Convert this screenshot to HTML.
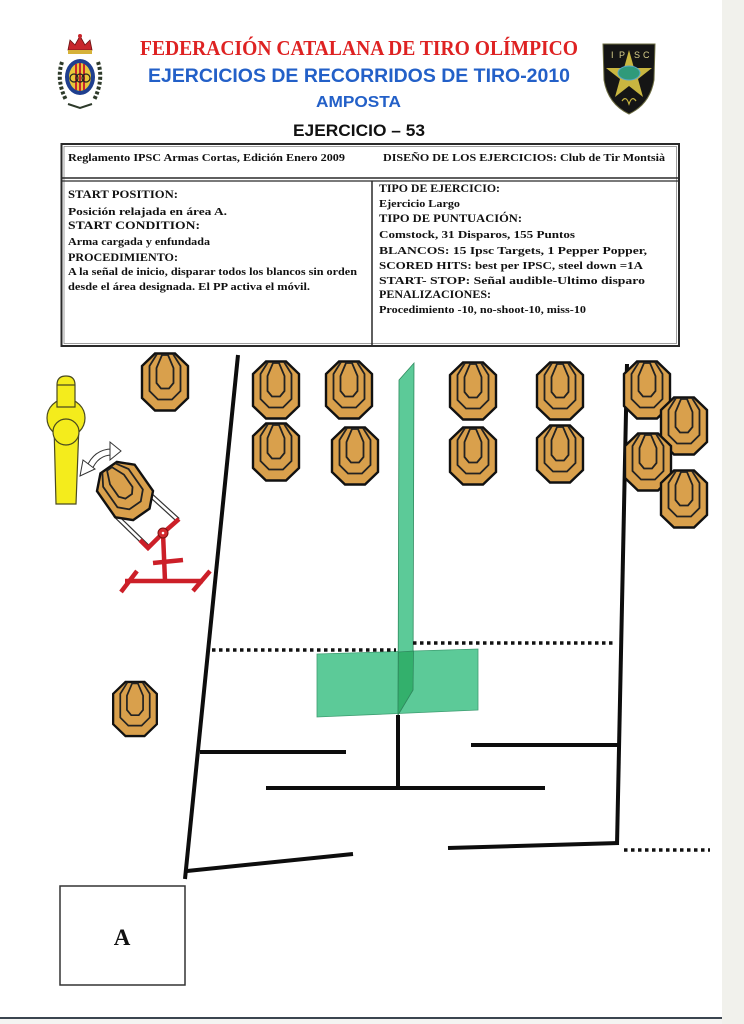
<!DOCTYPE html>
<html><head><meta charset="utf-8">
<style>
html,body{margin:0;padding:0;background:#fff;}
svg{display:block;}
</style></head>
<body>
<svg width="744" height="1024" viewBox="0 0 744 1024" xmlns="http://www.w3.org/2000/svg">
<defs>
<g id="tg">
  <polygon points="-10,-28.5 10,-28.5 23,-16 23,16 10,28.5 -10,28.5 -23,16 -23,-16" fill="#d9a04c" stroke="#111" stroke-width="2.4" stroke-linejoin="miter"/>
  <path d="M-8,-28 L-15.5,-16 L-15.5,9 L-7,17.5 L7,17.5 L15.5,9 L15.5,-16 L8,-28" fill="none" stroke="#222" stroke-width="1.8"/>
  <path d="M-3,-27 L-8.5,-14 L-8.5,1 L-4,6.5 L4,6.5 L8.5,1 L8.5,-14 L3,-27 Z" fill="none" stroke="#222" stroke-width="1.8"/>
</g>
</defs>

<!-- page background details -->
<rect x="0" y="0" width="744" height="1024" fill="#ffffff"/>
<rect x="722" y="0" width="22" height="1024" fill="#f1f1ec"/>
<rect x="0" y="1019" width="722" height="5" fill="#f4f4f2"/>
<line x1="0" y1="1018" x2="722" y2="1018" stroke="#3b4550" stroke-width="2"/>

<!-- left logo -->
<g>
  <path d="M68,50 L70,40 L75,45 L80,36 L85,45 L90,40 L92,50 Z" fill="#c8262c" stroke="#6a1010" stroke-width="0.8"/>
  <circle cx="80" cy="36" r="2" fill="#c8262c"/>
  <rect x="68" y="50" width="24" height="4" fill="#d6b23a"/>
  <path d="M62,62 Q56,80 66,100" fill="none" stroke="#2d3a2a" stroke-width="4" stroke-dasharray="3 2"/>
  <path d="M98,62 Q104,80 94,100" fill="none" stroke="#2d3a2a" stroke-width="4" stroke-dasharray="3 2"/>
  <ellipse cx="80" cy="77" rx="15" ry="18" fill="#1f3f8f"/>
  <ellipse cx="80" cy="77" rx="11" ry="14" fill="#e8c63a"/>
  <line x1="76" y1="64" x2="76" y2="90" stroke="#c8262c" stroke-width="2"/>
  <line x1="80" y1="63" x2="80" y2="91" stroke="#c8262c" stroke-width="2"/>
  <line x1="84" y1="64" x2="84" y2="90" stroke="#c8262c" stroke-width="2"/>
  <circle cx="74" cy="78" r="4" fill="none" stroke="#222" stroke-width="1.2"/>
  <circle cx="80" cy="78" r="4" fill="none" stroke="#222" stroke-width="1.2"/>
  <circle cx="86" cy="78" r="4" fill="none" stroke="#222" stroke-width="1.2"/>
  <path d="M68,104 L80,108 L92,104" fill="none" stroke="#2d3a2a" stroke-width="2"/>
</g>

<!-- IPSC logo -->
<g>
  <path d="M603,44 L655,44 L654,80 Q650,104 629,114 Q608,104 604,80 Z" fill="#151515" stroke="#6b6b40" stroke-width="1"/>
  <polygon points="629,50 634,68 652,68 638,79 643,97 629,86 615,97 620,79 606,68 624,68" fill="#c9b640"/>
  <ellipse cx="629" cy="73" rx="11" ry="7" fill="#2f9a7a" stroke="#5aa7c8" stroke-width="1"/>
  <text x="611" y="58" font-family="Liberation Sans, sans-serif" font-size="9" fill="#d8cf8a">I</text>
  <text x="619" y="58" font-family="Liberation Sans, sans-serif" font-size="9" fill="#d8cf8a">P</text>
  <text x="634" y="58" font-family="Liberation Sans, sans-serif" font-size="9" fill="#d8cf8a">S</text>
  <text x="643" y="58" font-family="Liberation Sans, sans-serif" font-size="9" fill="#d8cf8a">C</text>
  <path d="M622,101 Q626,95 629,104 Q632,95 636,101" fill="none" stroke="#c9b640" stroke-width="1.2"/>
</g>

<!-- titles -->
<text x="140" y="55" textLength="438" lengthAdjust="spacingAndGlyphs" font-family="Liberation Serif, serif" font-weight="bold" font-size="21" fill="#de2222">FEDERACIÓN CATALANA DE TIRO OLÍMPICO</text>
<text x="148" y="82" textLength="422" lengthAdjust="spacingAndGlyphs" font-family="Liberation Sans, sans-serif" font-weight="bold" font-size="19" fill="#2360c8">EJERCICIOS DE RECORRIDOS DE TIRO-2010</text>
<text x="316" y="107" textLength="85" lengthAdjust="spacingAndGlyphs" font-family="Liberation Sans, sans-serif" font-weight="bold" font-size="16" fill="#2360c8">AMPOSTA</text>
<text x="293" y="136" textLength="132" lengthAdjust="spacingAndGlyphs" font-family="Liberation Sans, sans-serif" font-weight="bold" font-size="17" fill="#111">EJERCICIO – 53</text>

<!-- table -->
<g fill="none" stroke="#2a2a2a">
  <rect x="61.5" y="144" width="617.5" height="202" stroke-width="2"/>
  <rect x="64" y="146.5" width="612.5" height="197" stroke-width="0.7" stroke="#777"/>
  <line x1="61.5" y1="178" x2="679" y2="178" stroke-width="1.4"/>
  <line x1="61.5" y1="181" x2="679" y2="181" stroke-width="1.2"/>
  <line x1="372" y1="181" x2="372" y2="346" stroke-width="1.5"/>
</g>
<g font-family="Liberation Serif, serif" font-weight="bold" fill="#111">
  <text x="68" y="161" font-size="11" textLength="277" lengthAdjust="spacingAndGlyphs">Reglamento IPSC Armas Cortas, Edición Enero 2009</text>
  <text x="383" y="161" font-size="11" textLength="282" lengthAdjust="spacingAndGlyphs">DISEÑO DE LOS EJERCICIOS: Club de Tir Montsià</text>

  <text x="68" y="198" font-size="12" textLength="110" lengthAdjust="spacingAndGlyphs">START POSITION:</text>
  <text x="68" y="215" font-size="11" textLength="159" lengthAdjust="spacingAndGlyphs">Posición relajada en área A.</text>
  <text x="68" y="229" font-size="12" textLength="132" lengthAdjust="spacingAndGlyphs">START CONDITION:</text>
  <text x="68" y="245" font-size="11" textLength="142" lengthAdjust="spacingAndGlyphs">Arma cargada y enfundada</text>
  <text x="68" y="261" font-size="12" textLength="110" lengthAdjust="spacingAndGlyphs">PROCEDIMIENTO:</text>
  <text x="68" y="275" font-size="11" textLength="289" lengthAdjust="spacingAndGlyphs">A la señal de inicio, disparar todos los blancos sin orden</text>
  <text x="68" y="290" font-size="11" textLength="242" lengthAdjust="spacingAndGlyphs">desde el área designada.  El PP activa el móvil.</text>

  <text x="379" y="192" font-size="12" textLength="121" lengthAdjust="spacingAndGlyphs">TIPO DE EJERCICIO:</text>
  <text x="379" y="207" font-size="11" textLength="81" lengthAdjust="spacingAndGlyphs">Ejercicio Largo</text>
  <text x="379" y="222" font-size="12" textLength="143" lengthAdjust="spacingAndGlyphs">TIPO DE PUNTUACIÓN:</text>
  <text x="379" y="238" font-size="11" textLength="196" lengthAdjust="spacingAndGlyphs">Comstock, 31 Disparos, 155 Puntos</text>
  <text x="379" y="254" font-size="11" textLength="268" lengthAdjust="spacingAndGlyphs">BLANCOS: 15 Ipsc Targets, 1 Pepper Popper,</text>
  <text x="379" y="269" font-size="11" textLength="264" lengthAdjust="spacingAndGlyphs">SCORED HITS: best per IPSC, steel down =1A</text>
  <text x="379" y="284" font-size="11" textLength="266" lengthAdjust="spacingAndGlyphs">START- STOP: Señal audible-Ultimo disparo</text>
  <text x="379" y="298" font-size="12" textLength="112" lengthAdjust="spacingAndGlyphs">PENALIZACIONES:</text>
  <text x="379" y="313" font-size="11" textLength="207" lengthAdjust="spacingAndGlyphs">Procedimiento -10, no-shoot-10, miss-10</text>
</g>

<!-- green shapes -->
<polygon points="317,654 478,649 478,710 317,717" fill="#5cca98" stroke="#3e9e72" stroke-width="0.8"/>
<polygon points="399,380 414,363 413,690 398,715" fill="#5cca98" stroke="#2f8a5e" stroke-width="0.8"/>
<polygon points="398.5,652 413.5,651 413,690 398,715" fill="#33b06c" stroke="#2f8a5e" stroke-width="0.8"/>

<!-- dotted lines -->
<g stroke="#111" stroke-width="3.5" stroke-dasharray="3.5 3.5" fill="none">
  <line x1="212" y1="650" x2="396" y2="650"/>
  <line x1="413" y1="643" x2="614" y2="643"/>
  <line x1="624" y1="850" x2="710" y2="850"/>
</g>

<!-- walls -->
<g stroke="#0d0d0d" stroke-width="4" stroke-linecap="butt" fill="none">
  <line x1="238" y1="355" x2="185" y2="879"/>
  <line x1="627" y1="364" x2="617" y2="845"/>
  <line x1="200" y1="752" x2="346" y2="752"/>
  <line x1="266" y1="788" x2="545" y2="788"/>
  <line x1="398" y1="715" x2="398" y2="788"/>
  <line x1="471" y1="745" x2="620" y2="745"/>
  <line x1="448" y1="848" x2="619" y2="843"/>
  <line x1="187" y1="871" x2="353" y2="854"/>
</g>

<!-- targets -->
<use href="#tg" transform="translate(165,382)"/>
<use href="#tg" transform="translate(276,390)"/>
<use href="#tg" transform="translate(276,452)"/>
<use href="#tg" transform="translate(349,390)"/>
<use href="#tg" transform="translate(355,456)"/>
<use href="#tg" transform="translate(473,391)"/>
<use href="#tg" transform="translate(473,456)"/>
<use href="#tg" transform="translate(560,391)"/>
<use href="#tg" transform="translate(560,454)"/>
<use href="#tg" transform="translate(647,390)"/>
<use href="#tg" transform="translate(684,426)"/>
<use href="#tg" transform="translate(648,462)"/>
<use href="#tg" transform="translate(684,499)"/>
<use href="#tg" transform="translate(135,709) scale(0.95)"/>

<!-- yellow figure -->
<g fill="#f4ec1c" stroke="#4a4a20" stroke-width="1.2">
  <path d="M54,425 L79,425 L76,504 L56,504 Z"/>
  <circle cx="66" cy="418" r="19"/>
  <path d="M57,407 L57,385 Q57,376 66,376 Q75,376 75,385 L75,407 Z"/>
  <line x1="57" y1="385" x2="75" y2="385"/>
  <circle cx="66" cy="432" r="13"/>
</g>

<!-- curved arrow -->
<g>
  <path d="M89,469 Q96,452 112,452" fill="none" stroke="#333" stroke-width="7"/>
  <path d="M89,469 Q96,452 112,452" fill="none" stroke="#fff" stroke-width="5"/>
  <polygon points="80,476 83,460 95,469" fill="#fff" stroke="#333" stroke-width="1"/>
  <polygon points="121,451 110,442 110,460" fill="#fff" stroke="#333" stroke-width="1"/>
</g>

<!-- moving target frame -->
<g>
  <line x1="145" y1="490" x2="178" y2="520" stroke="#333" stroke-width="5"/>
  <line x1="145" y1="490" x2="178" y2="520" stroke="#fff" stroke-width="2.6"/>
  <line x1="115" y1="515" x2="148" y2="547" stroke="#333" stroke-width="5"/>
  <line x1="115" y1="515" x2="148" y2="547" stroke="#fff" stroke-width="2.6"/>
  <use href="#tg" transform="translate(125,491) rotate(-35)"/>
  <g stroke="#cc1f28" stroke-width="4.5" stroke-linecap="butt" fill="none">
    <polyline points="179,519 163,533 148,548 140,540"/>
    <line x1="163" y1="533" x2="165" y2="581"/>
    <line x1="153" y1="563" x2="183" y2="560"/>
    <line x1="125" y1="581" x2="203" y2="581"/>
    <line x1="121" y1="592" x2="137" y2="571"/>
    <line x1="193" y1="591" x2="210" y2="571"/>
  </g>
  <circle cx="163" cy="533" r="5" fill="#d42a2f" stroke="#7a1010" stroke-width="1"/>
  <circle cx="163" cy="533" r="1.3" fill="#fff"/>
</g>

<!-- area A -->
<rect x="60" y="886" width="125" height="99" fill="none" stroke="#333" stroke-width="1.5"/>
<text x="122" y="945" text-anchor="middle" font-family="Liberation Serif, serif" font-weight="bold" font-size="23" fill="#111">A</text>
</svg>
</body></html>
